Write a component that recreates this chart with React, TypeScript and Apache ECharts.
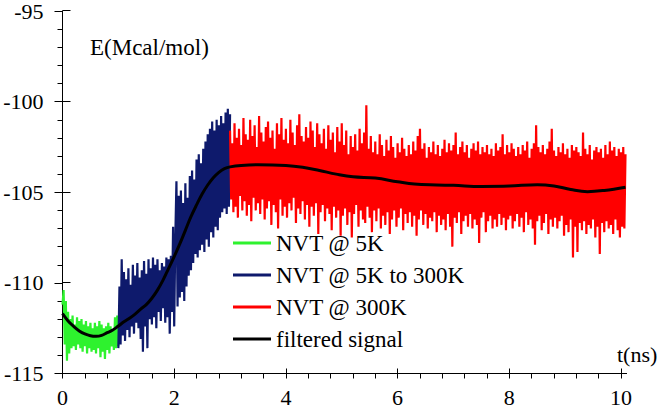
import React, { useEffect, useRef } from "react";
import * as echarts from "echarts";

// sampling
const DT = 0.02;
const T0_GREEN = 0;
const T0_NAVY = 1;
const T0_RED = 3;

// NVT @ 5K (t = 0.00 .. 1.00)
const green = [
  -111.2, -110.4, -113.4, -111.0, -114.3, -111.6, -113.9, -112.0, -113.6, -111.8,
  -113.5, -112.3, -113.7, -111.9, -113.4, -112.1, -113.6, -112.0, -113.8, -112.3,
  -113.5, -112.1, -113.9, -112.4, -113.6, -112.2, -113.8, -112.5, -113.7, -112.2,
  -113.9, -112.4, -113.6, -112.1, -114.1, -112.3, -113.8, -112.5, -114.2, -112.4,
  -113.7, -112.2, -113.9, -112.4, -113.5, -112.6, -113.7, -111.9, -113.6, -111.8,
  -113.5,
];

// NVT @ 5K to 300K (t = 1.00 .. 3.00)
const navy = [
  -113.6, -110.2, -113.4, -108.7, -112.9, -109.4, -113.2, -109.8, -112.6, -109.2,
  -113.0, -110.1, -112.4, -109.0, -112.8, -109.6, -112.2, -108.9, -112.5, -109.7,
  -113.1, -109.3, -113.8, -108.8, -112.4, -109.5, -113.6, -108.7, -112.0, -109.2,
  -112.3, -108.6, -111.9, -109.0, -112.5, -108.7, -111.6, -109.3, -112.1, -108.9,
  -111.4, -109.1, -112.2, -108.6, -111.9, -108.7, -112.8, -108.5,
  -111.6, -106.9, -112.4, -107.5, -104.4, -111.3, -105.2, -110.8, -104.9, -110.5,
  -105.6, -111.0, -104.5, -110.2, -105.3, -109.6, -104.1, -109.3, -103.8, -108.9,
  -104.3, -108.4, -103.2, -108.6, -102.9, -108.2, -103.4, -107.9, -102.6, -108.3,
  -102.2, -107.6, -101.8, -108.0, -101.5, -107.2, -101.1, -107.5, -101.6, -106.9,
  -101.0, -107.1, -101.3, -106.4, -100.8, -106.1, -101.2, -105.9, -100.6, -106.2,
  -100.4, -105.8, -100.7,
];

// NVT @ 300K (t = 3.00 .. 10.08)
const red = [
  -101.6, -105.4, -102.3, -106.1, -101.2, -105.8, -102.0, -106.4, -101.5, -105.2,
  -102.4, -106.0, -100.9, -105.5, -101.8, -106.3, -102.1, -105.7, -101.0, -106.6,
  -101.9, -105.3, -101.3, -106.0, -102.5, -105.6, -100.8, -106.2, -101.7, -105.4,
  -102.2, -106.5, -101.4, -105.9, -101.1, -105.5, -102.0, -106.8, -101.6, -105.7,
  -102.6, -106.1, -101.2, -107.0, -101.8, -105.4, -100.9, -106.3, -102.1, -105.8,
  -101.5, -106.4, -102.3, -105.6, -101.0, -106.0, -101.7, -105.3, -102.4, -106.7,
  -101.3, -105.9, -100.7, -106.2, -101.9, -105.5, -102.2, -106.5, -101.4, -105.7,
  -102.0, -106.9, -101.1, -105.8, -101.6, -106.3, -102.5, -105.6, -101.2, -107.3,
  -101.8, -106.1, -102.3, -105.7, -101.5, -106.6, -102.6, -105.9, -101.3, -106.2,
  -102.1, -107.1, -101.7, -105.8, -102.8, -106.4, -101.4, -106.0, -102.2, -107.4,
  -101.2, -106.3, -102.4, -105.9, -101.6, -106.8, -102.9, -106.1, -101.9, -107.5,
  -102.5, -106.2, -101.8, -105.7, -102.7, -106.9, -101.5, -106.0, -102.3, -106.5,
  -101.7, -106.7, -100.2, -105.8, -102.6, -106.4, -101.9, -107.2, -102.8, -106.0,
  -102.2, -106.6, -102.9, -105.9, -101.8, -107.0, -102.4, -106.3, -103.0, -106.8,
  -102.1, -106.1, -102.7, -107.3, -101.9, -106.5, -102.5, -106.0, -103.1, -106.9,
  -102.3, -106.4, -102.8, -105.9, -102.0, -107.1, -102.6, -106.2, -103.0, -106.7,
  -102.4, -106.1, -102.9, -106.9, -102.2, -106.3, -102.7, -107.4, -101.9, -106.5,
  -101.5, -106.0, -102.6, -106.8, -102.3, -106.2, -103.1, -107.0, -102.5, -106.4,
  -102.8, -106.6, -102.2, -106.1, -102.9, -107.2, -102.4, -106.3, -103.0, -106.8,
  -102.6, -106.5, -102.1, -107.1, -102.8, -106.2, -102.3, -106.9, -102.7, -108.0,
  -102.4, -106.4, -101.7, -106.7, -102.9, -106.1, -102.5, -107.3, -102.2, -106.6,
  -102.8, -106.3, -102.4, -106.9, -103.1, -106.2, -102.6, -107.0, -102.3, -106.5,
  -102.7, -106.8, -102.2, -107.8, -102.9, -106.4, -102.5, -106.1, -102.8, -107.2,
  -102.4, -106.6, -102.9, -106.3, -102.6, -107.0, -103.0, -106.5, -102.3, -106.9,
  -102.7, -106.2, -102.5, -106.8, -101.8, -106.4, -102.9, -107.1, -102.4, -106.5,
  -102.8, -106.3, -102.3, -107.0, -102.6, -106.6, -103.0, -106.2, -102.5, -106.9,
  -102.9, -106.4, -102.4, -107.2, -102.7, -106.1, -102.2, -106.8, -103.1, -106.5,
  -102.6, -107.0, -102.3, -107.9, -101.3, -106.6, -102.5, -106.3, -102.8, -107.1,
  -102.4, -106.7, -102.9, -106.2, -102.6, -107.3, -102.2, -106.5, -101.5, -106.9,
  -102.7, -106.4, -103.0, -107.0, -102.5, -106.6, -102.8, -106.3, -102.3, -107.4,
  -102.9, -106.8, -102.6, -107.2, -103.1, -106.5, -102.4, -108.6, -102.7, -106.9,
  -102.5, -108.3, -102.8, -106.7, -103.0, -107.1, -101.7, -106.6, -102.6, -107.3,
  -102.9, -106.8, -102.4, -107.0, -103.2, -106.5, -102.7, -107.5, -102.5, -106.9,
  -102.8, -108.4, -102.6, -106.7, -103.1, -107.2, -102.4, -106.6, -102.9, -107.0,
  -102.2, -106.8, -102.7, -107.3, -102.5, -106.5, -103.0, -107.1, -102.6, -107.5,
  -102.8, -106.9, -102.5, -107.0, -102.9,
];

// filtered signal
const filteredT = [
  0, 0.1, 0.2, 0.3, 0.4, 0.5, 0.6, 0.7, 0.8, 0.9, 1.0, 1.1, 1.2, 1.3, 1.4, 1.5, 1.6, 1.7, 1.8, 1.9,
  2.0, 2.1, 2.2, 2.3, 2.4, 2.5, 2.6, 2.7, 2.8, 2.9, 3.0, 3.2, 3.5, 4.0, 4.3, 4.6, 4.9, 5.2, 5.6, 6.0,
  6.3, 6.7, 7.0, 7.5, 8.0, 8.5, 8.8, 9.1, 9.4, 9.7, 10.08,
];
const filteredV = [
  -111.7, -112.1, -112.4, -112.65, -112.82, -112.92, -112.95, -112.9, -112.75, -112.6,
  -112.38, -112.15, -111.95, -111.72, -111.45, -111.2, -110.85, -110.4, -109.85, -109.2,
  -108.55, -107.85, -107.1, -106.35, -105.7, -105.1, -104.6, -104.2, -103.9, -103.7,
  -103.6, -103.52, -103.48, -103.52, -103.62, -103.8, -104.0, -104.15, -104.22, -104.42,
  -104.55, -104.6, -104.62, -104.68, -104.66, -104.58, -104.65, -104.85, -104.97, -104.9,
  -104.72,
];

const seriesNames = ["NVT @ 5K", "NVT @ 5K to 300K", "NVT @ 300K", "filtered signal"];
const seriesColors = ["#2ef22e", "#0e1a6c", "#ff0000", "#000000"];

const xTickValues = [0, 0.4, 0.8, 1.2, 1.6, 2, 2.4, 2.8, 3.2, 3.6, 4, 4.4, 4.8, 5.2, 5.6, 6, 6.4, 6.8, 7.2, 7.6, 8, 8.4, 8.8, 9.2, 9.6, 10];
const xMajorValues = [0, 2, 4, 6, 8, 10];
const X_MIN = 0;
const X_MAX = 10.1;
const Y_MIN = -115;
const Y_MAX = -95;
const Y_INTERVAL = 5;

const FONT = "Liberation Serif";

const toPairs = (t0: number, vals: number[]) =>
  vals.map((v, i) => [Math.round((t0 + i * DT) * 100) / 100, v]);

export default function App() {
  const ref = useRef<HTMLDivElement>(null);

  useEffect(() => {
    if (!ref.current) return;
    const chart = echarts.init(ref.current, undefined, { renderer: "svg" });
    const gridRect = { left: 62.5, right: 34.4, top: 10, bottom: 36.5 };
    const axisLine = { show: true, lineStyle: { color: "#000", width: 1 } };

    const noisy = (name: string, color: string, data: number[][]) => ({
      type: "line",
      name,
      data,
      xAxisIndex: 0,
      yAxisIndex: 0,
      showSymbol: false,
      symbol: "none",
      lineStyle: { color, width: 2.2, join: "miter" },
      itemStyle: { color },
      z: 2,
    });

    chart.setOption({
      animation: false,
      backgroundColor: "#fff",
      grid: [
        { ...gridRect },
        { ...gridRect },
      ],
      xAxis: [
        {
          type: "value",
          gridIndex: 0,
          min: X_MIN,
          max: X_MAX,
          axisLine,
          axisTick: { show: true, inside: false, length: 5, customValues: xTickValues, lineStyle: { color: "#000" } },
          axisLabel: {
            show: true,
            customValues: xMajorValues,
            margin: 13,
            fontSize: 22,
            color: "#000",
            fontFamily: FONT,
          },
          splitLine: { show: false },
        },
        {
          type: "value",
          gridIndex: 1,
          min: X_MIN,
          max: X_MAX,
          axisLine: { show: false },
          axisTick: { show: true, inside: true, length: 5, customValues: xMajorValues, lineStyle: { color: "#000" } },
          axisLabel: { show: false },
          splitLine: { show: false },
        },
      ],
      yAxis: [
        {
          type: "value",
          gridIndex: 0,
          min: Y_MIN,
          max: Y_MAX,
          interval: Y_INTERVAL,
          axisLine,
          axisTick: { show: true, inside: false, length: 8, lineStyle: { color: "#000" } },
          minorTick: { show: true, splitNumber: 5, length: 5, lineStyle: { color: "#000" } },
          axisLabel: { show: true, margin: 19, fontSize: 22, color: "#000", fontFamily: FONT },
          splitLine: { show: false },
        },
        {
          type: "value",
          gridIndex: 1,
          min: Y_MIN,
          max: Y_MAX,
          interval: Y_INTERVAL,
          axisLine: { show: false },
          axisTick: { show: true, inside: true, length: 8, lineStyle: { color: "#000" } },
          axisLabel: { show: false },
          splitLine: { show: false },
        },
      ],
      legend: {
        orient: "vertical",
        left: 233,
        top: 230,
        padding: 0,
        itemGap: 6,
        itemWidth: 38,
        itemHeight: 3,
        icon: "rect",
        data: seriesNames,
        textStyle: { fontSize: 23, lineHeight: 26, color: "#000", fontFamily: FONT },
      },
      graphic: [
        {
          type: "text",
          left: 90,
          top: 36,
          style: { text: "E(Mcal/mol)", fontSize: 23, fill: "#000", fontFamily: FONT },
        },
        {
          type: "text",
          left: 617,
          top: 343,
          style: { text: "t(ns)", fontSize: 22, fill: "#000", fontFamily: FONT },
        },
      ],
      series: [
        noisy(seriesNames[0], seriesColors[0], toPairs(T0_GREEN, green)),
        noisy(seriesNames[1], seriesColors[1], toPairs(T0_NAVY, navy)),
        noisy(seriesNames[2], seriesColors[2], toPairs(T0_RED, red)),
        {
          type: "line",
          name: seriesNames[3],
          data: filteredT.map((t, i) => [t, filteredV[i]]),
          xAxisIndex: 0,
          yAxisIndex: 0,
          showSymbol: false,
          symbol: "none",
          smooth: 0.4,
          lineStyle: { color: seriesColors[3], width: 3 },
          itemStyle: { color: seriesColors[3] },
          z: 5,
        },
      ],
    });
    return () => chart.dispose();
  }, []);

  return (
    <div
      ref={ref}
      style={{ position: "absolute", left: 0, top: 0, width: 661, height: 410, background: "#fff" }}
    />
  );
}
